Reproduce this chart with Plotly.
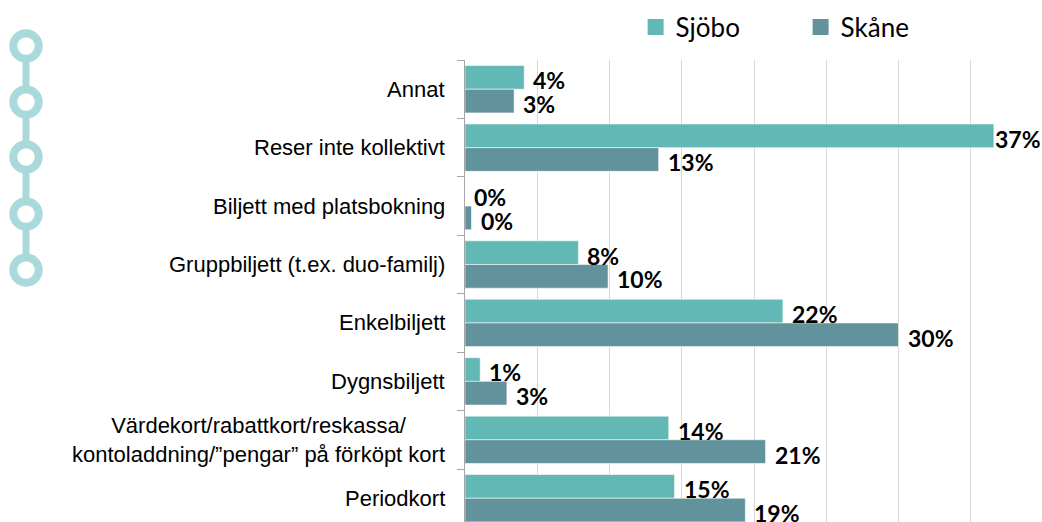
import plotly.graph_objects as go

categories = [
    "Annat",
    "Reser inte kollektivt",
    "Biljett med platsbokning",
    "Gruppbiljett (t.ex. duo-familj)",
    "Enkelbiljett",
    "Dygnsbiljett",
    "Värdekort/rabattkort/reskassa/<br>kontoladdning/”pengar” på förköpt kort",
    "Periodkort",
]
sjobo_values = [4.1, 36.6, 0.0, 7.85, 22.0, 1.05, 14.1, 14.5]
skane_values = [3.4, 13.4, 0.45, 9.9, 30.0, 2.9, 20.8, 19.4]
sjobo_labels = ["4%", "37%", "0%", "8%", "22%", "1%", "14%", "15%"]
skane_labels = ["3%", "13%", "0%", "10%", "30%", "3%", "21%", "19%"]

COL_SJOBO = "#61b8b4"
COL_SKANE = "#62929c"
DECOR = "#a9d9da"

W, H = 1042, 522
ML, MT = 465, 60
bargap = 0.19
bw = (1 - bargap) / 2
ypos = list(range(len(categories)))

fig = go.Figure()
fig.add_trace(go.Bar(
    y=ypos, x=sjobo_values, orientation="h", name="Sjöbo",
    width=bw, offset=-bw, marker=dict(color=COL_SJOBO, line=dict(color="rgba(255,255,255,0.55)", width=1)),
    showlegend=False, hoverinfo="skip",
))
fig.add_trace(go.Bar(
    y=ypos, x=skane_values, orientation="h", name="Skåne",
    width=bw, offset=0, marker=dict(color=COL_SKANE, line=dict(color="rgba(255,255,255,0.55)", width=1)),
    showlegend=False, hoverinfo="skip",
))
# legend entries
for name, col in [("Sjöbo", COL_SJOBO), ("Skåne", COL_SKANE)]:
    fig.add_trace(go.Scatter(x=[None], y=[None], mode="markers", name=name,
                             marker=dict(symbol="square", size=16, color=col)))

annotations = []
lab_font = dict(family="Lato, 'Open Sans', sans-serif", size=23, color="#000000")
for i, (v, t) in enumerate(zip(sjobo_values, sjobo_labels)):
    annotations.append(dict(x=v, y=i - bw / 2 + 0.05, xref="x", yref="y", text="<b>%s</b>" % t,
                            showarrow=False, xanchor="left", yanchor="middle",
                            xshift=-1 if v > 36 else 7, font=lab_font))
for i, (v, t) in enumerate(zip(skane_values, skane_labels)):
    annotations.append(dict(x=v, y=i + bw / 2 + 0.05, xref="x", yref="y", text="<b>%s</b>" % t,
                            showarrow=False, xanchor="left", yanchor="middle",
                            xshift=7, font=lab_font))
# category labels
for i, c in enumerate(categories):
    annotations.append(dict(x=0, y=i, xref="paper", yref="y", text=c, showarrow=False,
                            xanchor="right", yanchor="middle", align="center", xshift=-18,
                            font=dict(family="'Liberation Sans', Arial, sans-serif", size=22, color="#000000")))

# decorative chain on the left
shapes = []
centers = [14, -42, -97, -154, -210]
cx = 26 - ML
for a, b in zip(centers[:-1], centers[1:]):
    shapes.append(dict(type="rect", xref="paper", yref="paper", xsizemode="pixel", ysizemode="pixel",
                       xanchor=0, yanchor=1, x0=cx - 3.5, x1=cx + 3.5, y0=b, y1=a,
                       fillcolor=DECOR, line=dict(width=0)))
r = 12.7
for c in centers:
    shapes.append(dict(type="circle", xref="paper", yref="paper", xsizemode="pixel", ysizemode="pixel",
                       xanchor=0, yanchor=1, x0=cx - r, x1=cx + r, y0=c - r, y1=c + r,
                       fillcolor="white", line=dict(color=DECOR, width=8)))

plot_h = H - MT
cat_px = 58.43
plot_w = W - ML
px_per_pct = 14.45

fig.update_layout(
    width=W, height=H,
    margin=dict(l=ML, r=0, t=MT, b=0, pad=0),
    paper_bgcolor="white", plot_bgcolor="white",
    barmode="overlay",
    xaxis=dict(range=[0, plot_w / px_per_pct], showticklabels=False, ticks="",
               showgrid=True, gridcolor="#d9d9d9", gridwidth=1, dtick=5, tick0=0,
               zeroline=False, showline=False, fixedrange=True),
    yaxis=dict(range=[-0.5 + plot_h / cat_px, -0.5], tickmode="array",
               tickvals=[k - 0.5 for k in range(len(categories) + 1)],
               showticklabels=False, ticks="outside", ticklen=7, tickwidth=1, tickcolor="#a6a6a6",
               showline=True, linecolor="#a6a6a6", linewidth=1, showgrid=False, zeroline=False,
               fixedrange=True),
    legend=dict(orientation="h", xref="container", yref="container", x=0.61, y=0.993,
                xanchor="left", yanchor="top", font=dict(family="Lato, sans-serif", size=26, color="#000000"),
                entrywidth=120, bgcolor="rgba(0,0,0,0)", itemsizing="trace"),
    annotations=annotations,
    shapes=shapes,
    showlegend=True,
)

fig.write_html("out.html", config={"displayModeBar": False},
               post_script="document.body.style.margin='0px';document.body.style.overflow='hidden';")
